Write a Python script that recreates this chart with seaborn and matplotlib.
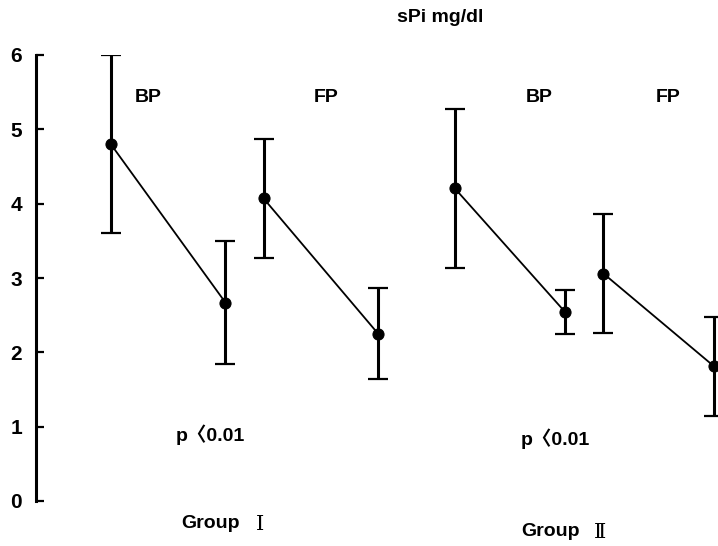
import pandas as pd
import seaborn as sns
import matplotlib.pyplot as plt

# Values (sPi mg/dl, mean +/- SD)
pairs = ["G1 BP", "G1 BP", "G1 FP", "G1 FP", "G2 BP", "G2 BP", "G2 FP", "G2 FP"]
x_pos = [1.0, 2.5, 3.0, 4.5, 5.5, 6.95, 7.45, 8.9]
means = [4.80, 2.67, 4.07, 2.25, 4.21, 2.54, 3.06, 1.81]
sds = [1.20, 0.83, 0.80, 0.61, 1.07, 0.30, 0.80, 0.66]
y_ticks = [0, 1, 2, 3, 4, 5, 6]

df = pd.DataFrame({"pair": pairs, "x": x_pos, "mean": means, "sd": sds})

sns.set_style("white")
plt.rcParams["font.family"] = ["Liberation Sans", "Noto Sans CJK JP", "DejaVu Sans"]

fig = plt.figure(figsize=(7.18, 5.46), dpi=100)
ax = fig.add_axes([36 / 718, 45 / 546, 682 / 718, 446 / 546])

# error bars
ax.errorbar(df["x"], df["mean"], yerr=df["sd"], fmt="none", ecolor="black",
            elinewidth=2.2, capsize=7, capthick=1.6)

# means joined within each before/after pair
sns.lineplot(data=df, x="x", y="mean", units="pair", estimator=None,
             color="black", marker="o", markersize=8, markeredgecolor="black",
             linewidth=1.3, ax=ax)

ax.set_xlim(0.02, 8.95)
ax.set_ylim(0, 6)
ax.set_yticks(y_ticks)
ax.set_xticks([])
ax.set_xlabel("")
ax.set_ylabel("")
for side in ["top", "right", "bottom"]:
    ax.spines[side].set_visible(False)
ax.spines["left"].set_linewidth(2.2)
ax.spines["left"].set_color("black")
ax.tick_params(axis="y", left=True, direction="in", length=6, width=1.6, pad=10,
               labelsize=15, colors="black")
for lab in ax.get_yticklabels():
    lab.set_fontweight("bold")

def put(x, y, s, size=14, family=None, weight="bold"):
    fig.text(x / 718, 1 - y / 546, s, ha="center", va="center",
             fontsize=size, fontweight=weight, color="black", family=family)

put(440, 18, "sPi mg/dl", 14)
put(148, 97, "BP")
put(326, 97, "FP")
put(539, 97, "BP")
put(668, 97, "FP")
put(210, 435, "p〈0.01")
put(555, 439, "p〈0.01")
put(210, 524, "Group")
put(260, 524, "Ⅰ", size=15, family=["DejaVu Serif", "Noto Sans CJK JP"], weight="normal")
put(551, 532, "Group")
put(600, 532, "Ⅱ", size=15, family=["DejaVu Serif", "Noto Sans CJK JP"], weight="normal")

fig.savefig("out.png", dpi=100)
